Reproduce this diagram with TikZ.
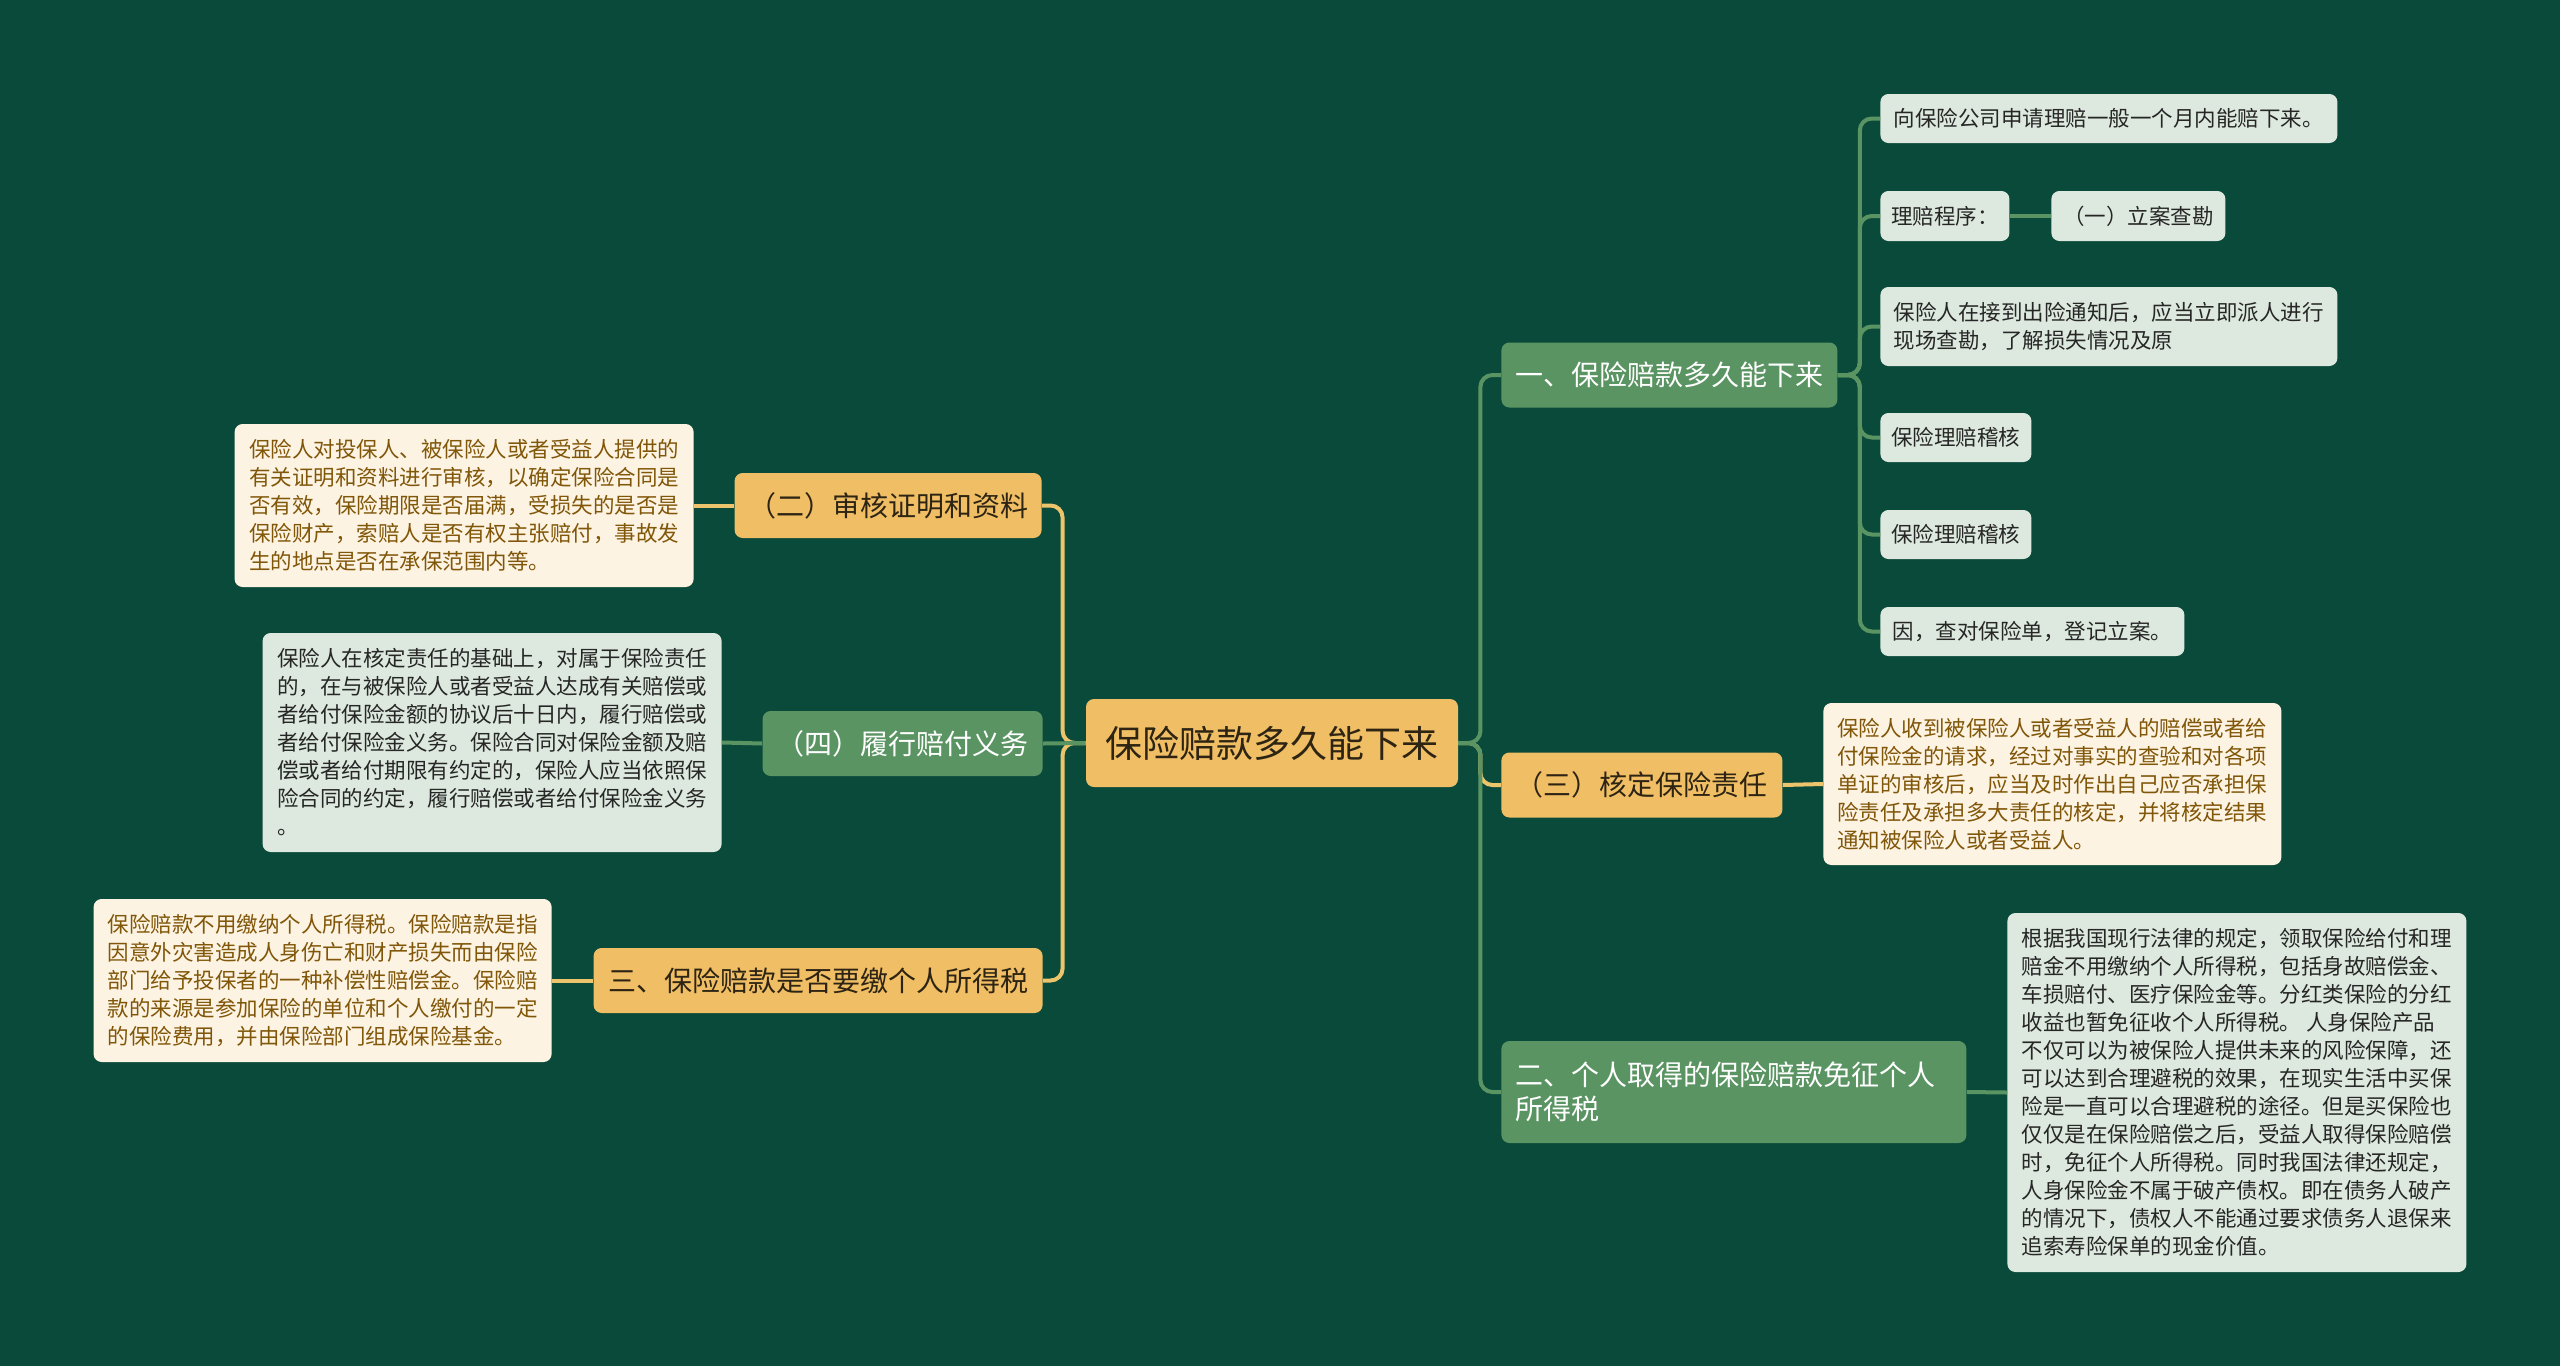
\documentclass[tikz,border=0pt]{standalone}
\usepackage{fontspec}
\usepackage{xcolor}
\usepackage{tikz}
\usetikzlibrary{positioning}
\newfontfamily\cjk{Noto Sans CJK SC}
\definecolor{bgteal}{RGB}{10,74,58}
\definecolor{paorange}{RGB}{240,190,100}
\definecolor{pagreen}{RGB}{90,148,98}
\definecolor{pacream}{RGB}{253,243,226}
\definecolor{pagrey}{RGB}{221,233,223}
\definecolor{pabrown}{RGB}{128,86,8}
\definecolor{padark}{RGB}{45,36,20}
\definecolor{linkgold}{RGB}{236,196,108}

\begin{document}
\begin{tikzpicture}[
            x=0.5pt, y=-0.5pt,
            rootbox/.style={rectangle, rounded corners=4pt, fill=paorange, text=padark, inner sep=0pt, align=center, font={\cjk\fontsize{18.5}{22}\selectfont}},
            topico/.style={rectangle, rounded corners=4pt, fill=paorange, text=padark, inner sep=0pt, align=center, minimum height=32.5pt, font={\cjk\fontsize{14}{17}\selectfont}},
            topicg/.style={topico, fill=pagreen, text=white},
            leafo/.style={rectangle, rounded corners=4pt, fill=pacream, text=pabrown, inner sep=0pt, align=left, font={\cjk\fontsize{10.75}{14}\selectfont}},
            leafg/.style={leafo, fill=pagrey, text=black!85},
            olink/.style={draw=linkgold, line width=2pt, rounded corners=6pt},
            glink/.style={draw=pagreen, line width=2pt, rounded corners=6pt}
        ]
            \useasboundingbox (0,0) rectangle (2560,1366);
            \fill[bgteal] (0,0) rectangle (2560,1366);

            % centre
            \node[rootbox, minimum width=186pt, minimum height=44pt] (root) at (1272,743) {保险赔款多久能下来};

            % left side
            \node[topico, anchor=east, minimum width=153.5pt] (audit) at (1042,505.5) {（二）审核证明和资料};
            \node[topicg, anchor=east, minimum width=140pt] (pay) at (1043,743.5) {（四）履行赔付义务};
            \node[topico, anchor=east, minimum width=224.5pt] (taxq) at (1043,980.5) {三、保险赔款是否要缴个人所得税};

            \node[leafo, anchor=east, minimum width=229.5pt, minimum height=81.5pt] (auditnote) at (694,505.5) {保险人对投保人、被保险人或者受益人提供的\\有关证明和资料进行审核，以确定保险合同是\\否有效，保险期限是否届满，受损失的是否是\\保险财产，索赔人是否有权主张赔付，事故发\\生的地点是否在承保范围内等。};
            \node[leafg, anchor=east, minimum width=229.5pt, minimum height=109.5pt] (paynote) at (722,742.5) {保险人在核定责任的基础上，对属于保险责任\\的，在与被保险人或者受益人达成有关赔偿或\\者给付保险金额的协议后十日内，履行赔偿或\\者给付保险金义务。保险合同对保险金额及赔\\偿或者给付期限有约定的，保险人应当依照保\\险合同的约定，履行赔偿或者给付保险金义务\\。};
            \node[leafo, anchor=east, minimum width=229pt, minimum height=81.5pt] (taxqnote) at (552,980.5) {保险赔款不用缴纳个人所得税。保险赔款是指\\因意外灾害造成人身伤亡和财产损失而由保险\\部门给予投保者的一种补偿性赔偿金。保险赔\\款的来源是参加保险的单位和个人缴付的一定\\的保险费用，并由保险部门组成保险基金。};

            % right side
            \node[topicg, anchor=west, minimum width=168pt] (howlong) at (1501,375) {一、保险赔款多久能下来};
            \node[topico, anchor=west, minimum width=140.5pt] (liab) at (1501,785) {（三）核定保险责任};
            \node[topicg, anchor=west, minimum width=232.5pt, minimum height=51pt, text width=218pt, align=left] (exempt) at (1501,1092) {二、个人取得的保险赔款免征个人\\所得税};

            \node[leafo, anchor=west, minimum width=229pt, minimum height=81pt] (liabnote) at (1823,784) {保险人收到被保险人或者受益人的赔偿或者给\\付保险金的请求，经过对事实的查验和对各项\\单证的审核后，应当及时作出自己应否承担保\\险责任及承担多大责任的核定，并将核定结果\\通知被保险人或者受益人。};
            \node[leafg, anchor=west, minimum width=229.5pt, minimum height=179.5pt] (exemptnote) at (2007,1092.5) {根据我国现行法律的规定，领取保险给付和理\\赔金不用缴纳个人所得税，包括身故赔偿金、\\车损赔付、医疗保险金等。分红类保险的分红\\收益也暂免征收个人所得税。 人身保险产品\\不仅可以为被保险人提供未来的风险保障，还\\可以达到合理避税的效果，在现实生活中买保\\险是一直可以合理避税的途径。但是买保险也\\仅仅是在保险赔偿之后，受益人取得保险赔偿\\时，免征个人所得税。同时我国法律还规定，\\人身保险金不属于破产债权。即在债务人破产\\的情况下，债权人不能通过要求债务人退保来\\追索寿险保单的现金价值。};

            % children of howlong
            \node[leafg, anchor=west, minimum width=228.5pt, minimum height=24.5pt] (month) at (1880,118.5) {向保险公司申请理赔一般一个月内能赔下来。};
            \node[leafg, anchor=west, minimum width=64.5pt, minimum height=25pt] (steps) at (1880,216) {理赔程序：};
            \node[leafg, anchor=west, minimum width=87pt, minimum height=25pt] (file) at (2051,216) {（一）立案查勘};
            \node[leafg, anchor=west, minimum width=228.5pt, minimum height=39.5pt] (survey) at (1880,326.5) {保险人在接到出险通知后，应当立即派人进行\\现场查勘，了解损失情况及原};
            \node[leafg, anchor=west, minimum width=75.5pt, minimum height=24.5pt] (checka) at (1880,437.5) {保险理赔稽核};
            \node[leafg, anchor=west, minimum width=75.5pt, minimum height=24.5pt] (checkb) at (1880,534.5) {保险理赔稽核};
            \node[leafg, anchor=west, minimum width=152pt, minimum height=24.5pt] (policy) at (1880,631.5) {因，查对保险单，登记立案。};

            % connectors
            \draw[olink] (root.west) -- ++(-23,0) |- (audit.east);
            \draw[olink] (root.west) -- ++(-23,0) |- (taxq.east);
            \draw[glink] (root.west) -- (pay.east);
            \draw[olink] (root.east) -- ++(22,0) |- (liab.west);
            \draw[glink] (root.east) -- ++(22,0) |- (howlong.west);
            \draw[glink] (root.east) -- ++(22,0) |- (exempt.west);

            \draw[olink] (audit.west) -- (auditnote.east);
            \draw[glink] (pay.west) -- (paynote.east);
            \draw[olink] (taxq.west) -- (taxqnote.east);
            \draw[olink] (liab.east) -- (liabnote.west);
            \draw[glink] (exempt.east) -- (exemptnote.west);

            \draw[glink] (howlong.east) -- ++(22,0) |- (month.west);
            \draw[glink] (howlong.east) -- ++(22,0) |- (steps.west);
            \draw[glink] (howlong.east) -- ++(22,0) |- (survey.west);
            \draw[glink] (howlong.east) -- ++(22,0) |- (checka.west);
            \draw[glink] (howlong.east) -- ++(22,0) |- (checkb.west);
            \draw[glink] (howlong.east) -- ++(22,0) |- (policy.west);
            \draw[glink] (steps.east) -- (file.west);
        \end{tikzpicture}
\end{document}
